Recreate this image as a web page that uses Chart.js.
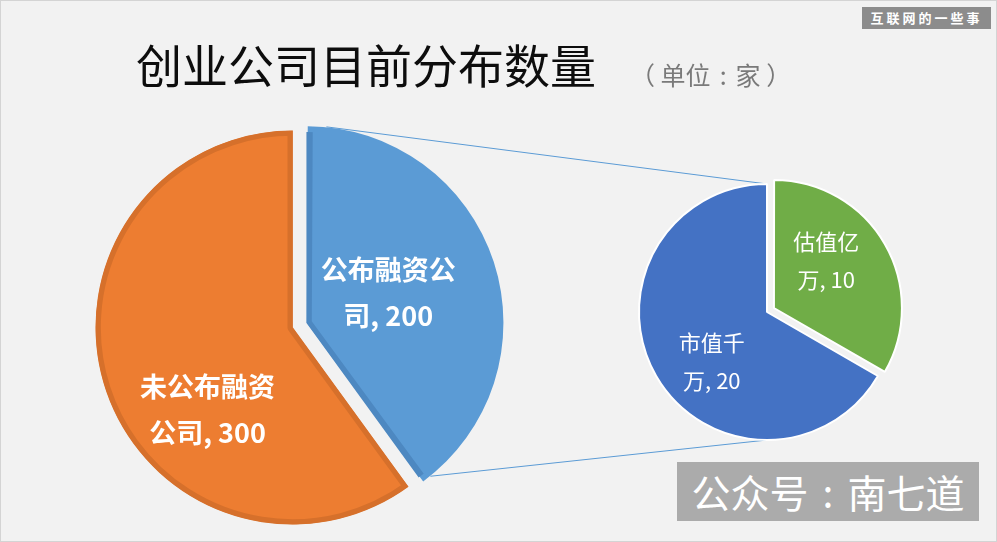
<!DOCTYPE html>
<html>
<head>
<meta charset="utf-8">
<script src="https://cdn.jsdelivr.net/npm/chart.js"></script>
<style>
html, body { margin: 0; padding: 0; background: #f2f2f2; }
#wrap { position: relative; width: 997px; height: 542px; overflow: hidden; font-family: "Noto Sans CJK SC", sans-serif; }
#wrap canvas { position: absolute; left: 0; top: 0; }
#frame { position: absolute; left: 0; top: 0; width: 997px; height: 542px; box-sizing: border-box; border: 1px solid #d4d4d4; pointer-events: none; }
#title { position: absolute; left: 136px; top: 40px; font-size: 46px; line-height: 46px; color: #0d0d0d; white-space: nowrap; }
#unit { position: absolute; left: 630px; top: 62px; font-size: 25px; line-height: 25px; color: #7a7a7a; white-space: nowrap; }
.sep { display: inline-block; text-align: center; }
#unit .sep { width: 25px; }
#tag { position: absolute; left: 862px; top: 7px; width: 129px; height: 22px; background: #8c8c8c; color: #fff; font-size: 13px; line-height: 22px; font-weight: bold; letter-spacing: 3px; text-align: center; white-space: nowrap; }
#mark { position: absolute; left: 677px; top: 462px; width: 302px; height: 59px; background: #ababab; color: #fff; font-size: 39px; line-height: 59px; text-align: center; white-space: nowrap; }
#mark .sep { width: 39px; }
</style>
</head>
<body>
<div id="wrap">
  <canvas id="mainPie" width="997" height="542"></canvas>
  <canvas id="subPie" width="997" height="542"></canvas>
  <div id="title">创业公司目前分布数量</div>
  <div id="unit">（ 单位<span class="sep">:</span>家 ）</div>
  <div id="tag">互联网的一些事</div>
  <div id="mark">公众号<span class="sep">:</span>南七道</div>
  <div id="frame"></div>
</div>
<script>
// main pie: companies that did / did not announce funding
const mainLabels = ['公布融资公司', '未公布融资公司'];
const mainValues = [200, 300];

// secondary pie: breakdown of the announced ones
const subLabels = ['估值亿万', '市值千万'];
const subValues = [10, 20];

// Chart.js grows an offset slice's radius a bit; shrink it back while drawing
const evenExplode = {
    id: 'evenExplode',
    beforeDatasetsDraw(chart) {
        chart.getDatasetMeta(0).data.forEach(arc => {
            const off = (arc.options.offset || 0) / 4;
            const fix = 1 - Math.sin(Math.min(Math.PI, arc.circumference));
            arc.$saveR = arc.outerRadius;
            arc.outerRadius -= off * fix;
        });
    },
    afterDatasetsDraw(chart) {
        chart.getDatasetMeta(0).data.forEach(arc => {
            if (arc.$saveR !== undefined) arc.outerRadius = arc.$saveR;
        });
    }
};

// draws "name, value" inside each slice, wrapped after N chars
const sliceLabels = {
    id: 'sliceLabels',
    afterDatasetsDraw(chart, args, opts) {
        const ctx = chart.ctx;
        const meta = chart.getDatasetMeta(0);
        const values = chart.data.datasets[0].data;
        meta.data.forEach((arc, i) => {
            const mid = (arc.startAngle + arc.endAngle) / 2;
            const shift = (arc.options.offset || 0) / 4;
            const cx = arc.x + Math.cos(mid) * shift;
            const cy = arc.y + Math.sin(mid) * shift;
            const a = (opts.angles[i] - 90) * Math.PI / 180;
            const r = opts.radii[i] * arc.outerRadius;
            const x = cx + Math.cos(a) * r;
            const y = cy + Math.sin(a) * r;
            const text = chart.data.labels[i] + ', ' + values[i];
            const lines = [text.slice(0, opts.wrap), text.slice(opts.wrap)];
            ctx.save();
            ctx.font = opts.font;
            ctx.fillStyle = '#ffffff';
            ctx.textAlign = 'center';
            ctx.textBaseline = 'middle';
            lines.forEach((ln, k) => {
                ctx.fillText(ln, x, y + (k - (lines.length - 1) / 2) * opts.lineHeight);
            });
            ctx.restore();
        });
    }
};

let mainChart = null;

// lines from the exploded slice to the top / bottom of the small pie
const connectors = {
    id: 'connectors',
    beforeDatasetsDraw(chart) {
        if (!mainChart) return;
        const src = mainChart.getDatasetMeta(0).data[0];
        const dst = chart.getDatasetMeta(0).data[0];
        const mid = (src.startAngle + src.endAngle) / 2;
        const shift = (src.options.offset || 0) / 4;
        const sx = src.x + Math.cos(mid) * shift;
        const sy = src.y + Math.sin(mid) * shift;
        const R = src.outerRadius;
        const a1 = src.startAngle + 0.1;
        const a2 = src.endAngle - 0.05;
        const ctx = chart.ctx;
        ctx.save();
        ctx.strokeStyle = '#5b9bd5';
        ctx.lineWidth = 1;
        ctx.beginPath();
        ctx.moveTo(sx + R * Math.cos(a1), sy + R * Math.sin(a1));
        ctx.lineTo(dst.x, dst.y - dst.outerRadius);
        ctx.moveTo(sx + R * Math.cos(a2), sy + R * Math.sin(a2));
        ctx.lineTo(dst.x, dst.y + dst.outerRadius);
        ctx.stroke();
        ctx.restore();
    }
};

mainChart = new Chart(document.getElementById('mainPie'), {
    type: 'pie',
    data: {
        labels: mainLabels,
        datasets: [{
            data: mainValues,
            backgroundColor: ['#5b9bd5', '#ed7d31'],
            borderColor: ['#4d88c1', '#d6702b'],
            borderWidth: 5,
            borderAlign: 'inner',
            offset: [60, 0]
        }]
    },
    options: {
        responsive: false,
        animation: false,
        radius: 197,
        layout: { padding: { left: 0, right: 412, top: 113, bottom: 0 } },
        plugins: {
            legend: { display: false },
            tooltip: { enabled: false },
            sliceLabels: {
                angles: [70, 226],
                radii: [0.44, 0.6],
                wrap: 5,
                font: 'bold 27px "Noto Sans CJK SC"',
                lineHeight: 46
            }
        }
    },
    plugins: [evenExplode, sliceLabels]
});

new Chart(document.getElementById('subPie'), {
    type: 'pie',
    data: {
        labels: subLabels,
        datasets: [{
            data: subValues,
            backgroundColor: ['#70ad47', '#4472c4'],
            borderColor: '#ffffff',
            borderWidth: 2,
            offset: [32, 0]
        }]
    },
    options: {
        responsive: false,
        animation: false,
        radius: 128,
        layout: { padding: { left: 537, right: 0, top: 82, bottom: 0 } },
        plugins: {
            legend: { display: false },
            tooltip: { enabled: false },
            sliceLabels: {
                angles: [48, 228],
                radii: [0.55, 0.58],
                wrap: 3,
                font: '22px "Noto Sans CJK SC"',
                lineHeight: 38
            }
        }
    },
    plugins: [connectors, evenExplode, sliceLabels]
});
</script>
</body>
</html>
